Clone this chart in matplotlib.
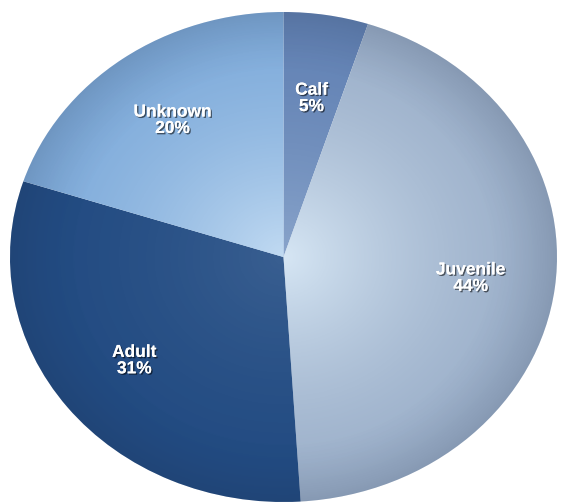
import numpy as np
import matplotlib
matplotlib.use("Agg")
import matplotlib.pyplot as plt
import matplotlib.patheffects as pe

categories = ["Calf", "Juvenile", "Adult", "Unknown"]
shares = [5, 44, 31, 20]
colors = ["#6383b5", "#9cb0ca", "#224b82", "#80acdb"]
glow = [0.3, 0.8, 0.12, 0.65]

fig = plt.figure(figsize=(5.71, 5.04), dpi=100)
ax = fig.add_axes([10 / 571, 2 / 504, 547 / 571, 490 / 504])

labels = [f"{c}\n{s}%" for c, s in zip(categories, shares)]
wedges, texts = ax.pie(shares, colors=colors, startangle=90, counterclock=False,
                       labels=labels, labeldistance=0.69,
                       wedgeprops=dict(linewidth=0),
                       textprops=dict(color="white", fontsize=12.5, fontweight="bold",
                                      family=["Liberation Sans", "DejaVu Sans"],
                                      linespacing=1.12))
ax.set_aspect("auto")
ax.axis("off")

for t in texts:
    t.set_ha("center")
    t.set_va("center")
    t.set_zorder(5)
    t.set_path_effects([pe.withSimplePatchShadow(offset=(1, -1), shadow_rgbFace="black", alpha=0.55),
                        pe.Normal()])
px, py = texts[0].get_position()
texts[0].set_position((px * 0.95, py * 0.95))

# radial shading: light centre, slightly darker rim
n = 400
xs = np.linspace(-1, 1, n)
X, Y = np.meshgrid(xs, xs)
R = np.sqrt(X ** 2 + Y ** 2)
for w, g in zip(wedges, glow):
    light = np.zeros((n, n, 4))
    light[..., :3] = [0.9, 0.96, 1.0]
    light[..., 3] = np.clip(g * (1 - R) ** 1.6, 0, 1)
    im = ax.imshow(light, extent=[-1, 1, -1, 1], origin="lower", zorder=2, aspect="auto")
    im.set_clip_path(w)
    dark = np.zeros((n, n, 4))
    dark[..., :3] = [0.1, 0.15, 0.25]
    dark[..., 3] = np.clip(0.3 * np.clip(R - 0.75, 0, None) / 0.25, 0, 1) ** 1.5
    im2 = ax.imshow(dark, extent=[-1, 1, -1, 1], origin="lower", zorder=2, aspect="auto")
    im2.set_clip_path(w)
ax.set_xlim(-1, 1)
ax.set_ylim(-1, 1)

fig.savefig("out.png", dpi=100, facecolor="white")
